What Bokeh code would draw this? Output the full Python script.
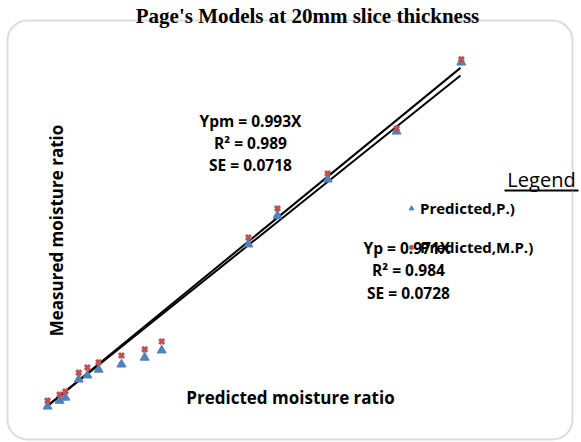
import math
from bokeh.plotting import figure
from bokeh.models import Label, BoxAnnotation, Range1d, Legend, LegendItem
from bokeh.embed import file_html
from bokeh.resources import INLINE

# ---- data (moisture ratio) ----
predicted_x = [0.005, 0.034, 0.048, 0.080, 0.101, 0.128, 0.183, 0.239, 0.280,
               0.489, 0.559, 0.680, 0.846, 1.002]
measured_mp = [0.020, 0.038, 0.047, 0.102, 0.117, 0.132, 0.152, 0.170, 0.193,
               0.497, 0.582, 0.684, 0.816, 1.018]
measured_p = [0.003, 0.020, 0.029, 0.082, 0.094, 0.111, 0.126, 0.146, 0.167,
              0.477, 0.561, 0.667, 0.807, 1.009]
fit_x = [0.0, 1.0]
slope_pm = 0.993
slope_p = 0.971

W, H = 581, 442
# pixel layout of the frame
X0, SX = 45, 415
Y0, SY = 407, 342

def dx(px):
    return (px - X0) / SX

def dy(py):
    return (Y0 - py) / SY

p = figure(width=W, height=H, output_backend="svg", toolbar_location=None,
           x_axis_type=None, y_axis_type=None, min_border=0,
           x_range=Range1d(dx(0), dx(W)), y_range=Range1d(dy(H), dy(0)))
p.outline_line_color = None
p.background_fill_color = "white"
p.border_fill_color = "white"

# chart border
p.add_layout(BoxAnnotation(left=dx(7), right=dx(572), top=dy(20), bottom=dy(439),
                           fill_alpha=0, line_color="#8a8a8a", line_width=2,
                           border_radius=20))

# fit lines
p.line(fit_x, [slope_pm * v for v in fit_x], line_color="black", line_width=2)
p.line(fit_x, [slope_p * v for v in fit_x], line_color="black", line_width=2)

r_p = p.scatter(predicted_x, measured_p, marker="triangle", size=9,
                fill_color="#4F81BD", line_color="#4F81BD")
r_mp = p.scatter(predicted_x, measured_mp, marker="x", size=7, line_width=3,
                 line_color="#C0504D")

FONT = "Open Sans"

def lab(text, px, py, size, bold=True, align="center", font=FONT, angle=0, baseline="middle"):
    p.add_layout(Label(x=dx(px), y=dy(py), text=text, text_font=font,
                       text_font_size=f"{size}px",
                       text_font_style="bold" if bold else "normal",
                       text_align=align, text_baseline=baseline, angle=angle,
                       text_color="black"))

# title
lab("Page's Models at 20mm slice thickness", 307, 15, 21, font="Liberation Serif",
    baseline="alphabetic")

# equations
lab("Ypm = 0.993X", 250, 120, 15.5)
lab("R\u00b2 = 0.989", 250, 142, 15.5)
lab("SE = 0.0718", 250, 164, 15.5)

lab("Yp = 0.971X", 363, 247, 15.5, align="left")
lab("R\u00b2 = 0.984", 408, 269, 15.5)
lab("SE = 0.0728", 408, 292, 15.5)

# axis titles
lab("Predicted moisture ratio", 290, 397, 17)
lab("Measured moisture ratio", 56, 230, 17, angle=math.pi / 2)

# legend heading
lab("Legend", 541, 179, 20, bold=False)
p.line([dx(504), dx(578)], [dy(190), dy(190)], line_color="black", line_width=2)

legend = Legend(items=[LegendItem(label="Predicted,P.)", renderers=[r_p]),
                       LegendItem(label="Predicted,M.P.)", renderers=[r_mp])],
                location=(405, 185), orientation="vertical",
                label_text_font=FONT, label_text_font_style="bold",
                label_text_font_size="15px", label_text_color="black",
                glyph_width=12, glyph_height=20,
                label_height=20, spacing=19, padding=0, margin=0,
                label_standoff=3, border_line_color=None,
                background_fill_alpha=0)
p.add_layout(legend)

open("out.html", "w").write(file_html(p, INLINE))
